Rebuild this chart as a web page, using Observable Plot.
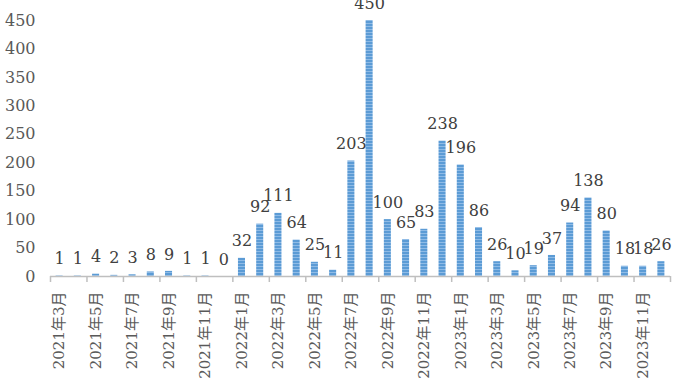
<!DOCTYPE html>
<html>
<head>
<meta charset="utf-8">
<script src="https://cdn.jsdelivr.net/npm/d3@7"></script>
<script src="https://cdn.jsdelivr.net/npm/@observablehq/plot@0.6"></script>
<style>
html, body { margin: 0; padding: 0; background: #fff; }
#chart { width: 690px; height: 388px; overflow: hidden; }
</style>
</head>
<body>
<div id="chart"></div>
<script>
const months = [
  "2021年3月","2021年4月","2021年5月","2021年6月","2021年7月","2021年8月","2021年9月","2021年10月","2021年11月","2021年12月",
  "2022年1月","2022年2月","2022年3月","2022年4月","2022年5月","2022年6月","2022年7月","2022年8月","2022年9月","2022年10月","2022年11月","2022年12月",
  "2023年1月","2023年2月","2023年3月","2023年4月","2023年5月","2023年6月","2023年7月","2023年8月","2023年9月","2023年10月","2023年11月","2023年12月"
];
const counts = [
  1, 1, 4, 2, 3, 8, 9, 1, 1, 0,
  32, 92, 111, 64, 25, 11, 203, 450, 100, 65, 83, 238,
  196, 86, 26, 10, 19, 37, 94, 138, 80, 18, 18, 26
];
const yTicks = [0, 50, 100, 150, 200, 250, 300, 350, 400, 450];

const data = months.map((m, i) => ({i, month: m, value: counts[i]}));
const labelPos = data.filter(d => d.i % 2 === 0).map(d => d.i + 0.5);
const boundaryTicks = d3.range(0, months.length + 1, 2);

const serif = "'DejaVu Serif', 'Noto Sans CJK JP', serif";

const plot = Plot.plot({
  width: 690,
  height: 388,
  marginLeft: 50,
  marginRight: 20,
  marginTop: 20,
  marginBottom: 112,
  style: {fontFamily: serif, background: "#fff"},
  x: {type: "linear", domain: [0, months.length]},
  y: {domain: [0, 450]},
  marks: [
    Plot.axisY({ticks: yTicks, tickSize: 0, tickPadding: 15, fontSize: 16, fill: "#595959", label: null}),
    Plot.rectY(data, {x1: "i", x2: d => d.i + 1, y: "value", insetLeft: 5.6, insetRight: 5.6, fill: "url(#stripes)"}),
    Plot.ruleY([0], {stroke: "#bfbfbf", strokeWidth: 1.5}),
    Plot.axisX({ticks: boundaryTicks, tickFormat: () => "", tickSize: 6, stroke: "#bfbfbf", strokeWidth: 1.5, label: null}),
    Plot.axisX({ticks: labelPos, tickFormat: v => months[Math.floor(v)], tickSize: 0, tickPadding: 15, tickRotate: -90, fontSize: 15, fill: "#595959", label: null}),
    Plot.text(data, {x: d => d.i + 0.5, y: "value", text: d => String(d.value), dy: -17, fontSize: 16, fill: "#404040"})
  ]
});

const ns = "http://www.w3.org/2000/svg";
const defs = document.createElementNS(ns, "defs");
defs.innerHTML = `<pattern id="stripes" patternUnits="userSpaceOnUse" width="8" height="3">
  <rect width="8" height="3" fill="#5b9bd5"/>
  <rect y="2" width="8" height="1" fill="#8fbbe6"/>
</pattern>`;
plot.insertBefore(defs, plot.firstChild);
document.getElementById("chart").appendChild(plot);
</script>
</body>
</html>
